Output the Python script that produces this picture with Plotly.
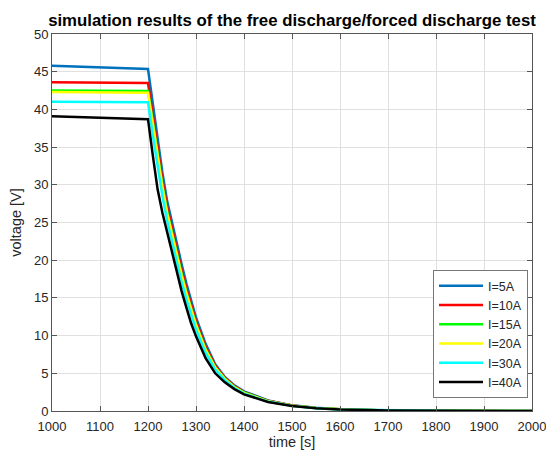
import plotly.graph_objects as go

time_s = [1000, 1200, 1210, 1220, 1230, 1240, 1250, 1260, 1270, 1280, 1290, 1300,
          1320, 1340, 1360, 1380, 1400, 1450, 1500, 1550, 1600, 1700, 1800, 1900, 2000]

v_5A = [45.8, 45.35, 40.8, 36.2, 31.6, 27.8, 24.9, 22.2, 19.5, 16.9, 14.5, 12.4,
        8.9, 6.2, 4.5, 3.4, 2.6, 1.4, 0.75, 0.42, 0.24, 0.08, 0.03, 0.01, 0.005]
v_10A = [43.6, 43.5, 39.2, 34.8, 30.6, 27.0, 24.1, 21.4, 18.7, 16.2, 13.9, 11.9,
         8.5, 6.0, 4.4, 3.3, 2.5, 1.35, 0.73, 0.41, 0.23, 0.08, 0.03, 0.01, 0.005]
v_15A = [42.5, 42.45, 38.3, 34.0, 29.9, 26.4, 23.6, 20.8, 18.2, 15.7, 13.5, 11.5,
         8.2, 5.8, 4.3, 3.2, 2.45, 1.3, 0.71, 0.4, 0.22, 0.07, 0.03, 0.01, 0.005]
v_20A = [42.3, 42.2, 38.1, 33.8, 29.7, 26.2, 23.4, 20.6, 18.0, 15.6, 13.4, 11.4,
         8.1, 5.75, 4.25, 3.15, 2.4, 1.28, 0.7, 0.39, 0.22, 0.07, 0.03, 0.01, 0.005]
v_30A = [41.0, 40.95, 36.6, 32.3, 28.5, 25.2, 22.4, 19.7, 17.1, 14.8, 12.7, 10.8,
         7.7, 5.5, 4.1, 3.05, 2.3, 1.25, 0.68, 0.38, 0.21, 0.07, 0.025, 0.01, 0.005]
v_40A = [39.1, 38.7, 33.9, 29.4, 26.3, 23.6, 21.0, 18.5, 15.9, 13.7, 11.6, 9.9,
         7.0, 5.0, 3.8, 2.9, 2.2, 1.2, 0.65, 0.36, 0.2, 0.06, 0.02, 0.01, 0.005]

series_names = ["I=5A", "I=10A", "I=15A", "I=20A", "I=30A", "I=40A"]
series_values = [v_5A, v_10A, v_15A, v_20A, v_30A, v_40A]
series_colors = ["#0072BD", "#FF0000", "#00FF00", "#FFFF00", "#00FFFF", "#000000"]

x_ticks = list(range(1000, 2001, 100))
y_ticks = list(range(0, 51, 5))

FONT = "Liberation Sans, Arial, Helvetica, sans-serif"
AXC = "#555555"

fig = go.Figure()
for name, vals, col in zip(series_names, series_values, series_colors):
    fig.add_trace(go.Scatter(x=time_s, y=vals, mode="lines", name=name,
                             line=dict(color=col, width=2.5)))

fig.update_layout(
    width=546, height=456,
    margin=dict(l=52, r=14, t=34, b=45),
    paper_bgcolor="white", plot_bgcolor="white",
    font=dict(family=FONT, size=13, color="#262626"),
    title=dict(text="<b>simulation results of the free discharge/forced discharge test</b>",
               x=0.5, xref="paper", xanchor="center",
               y=1 - 20 / 456, yref="container", yanchor="middle",
               font=dict(family=FONT, size=16.8, color="#000000")),
    showlegend=True,
    legend=dict(x=(528 - 52) / 480, xanchor="right", y=(411 - 398) / 377, yanchor="bottom",
                bgcolor="white", bordercolor="#777777", borderwidth=1,
                font=dict(family=FONT, size=12.5, color="#262626"),
                itemwidth=44, tracegroupgap=0),
)
fig.update_xaxes(range=[1000, 2000], tickvals=x_ticks, ticktext=[str(t) for t in x_ticks],
                 showgrid=True, gridcolor="#e0e0e0", gridwidth=1,
                 showline=True, linecolor=AXC, linewidth=1, mirror="ticks",
                 ticks="inside", ticklen=5, tickcolor=AXC, automargin=False,
                 zeroline=False, ticklabelstandoff=3, ticklabeloverflow="allow",
                 title=dict(text="time [s]", font=dict(family=FONT, size=14.5, color="#262626"), standoff=3),
                 tickfont=dict(family=FONT, size=13, color="#262626"))
fig.update_yaxes(range=[0, 50], tickvals=y_ticks, ticktext=[str(t) for t in y_ticks],
                 showgrid=True, gridcolor="#e0e0e0", gridwidth=1,
                 showline=True, linecolor=AXC, linewidth=1, mirror="ticks",
                 ticks="inside", ticklen=5, tickcolor=AXC, automargin=False,
                 zeroline=False, ticklabeloverflow="allow",
                 title=dict(text="voltage [V]", font=dict(family=FONT, size=14.5, color="#262626"), standoff=8),
                 tickfont=dict(family=FONT, size=13, color="#262626"))

fig.write_html("out.html")
